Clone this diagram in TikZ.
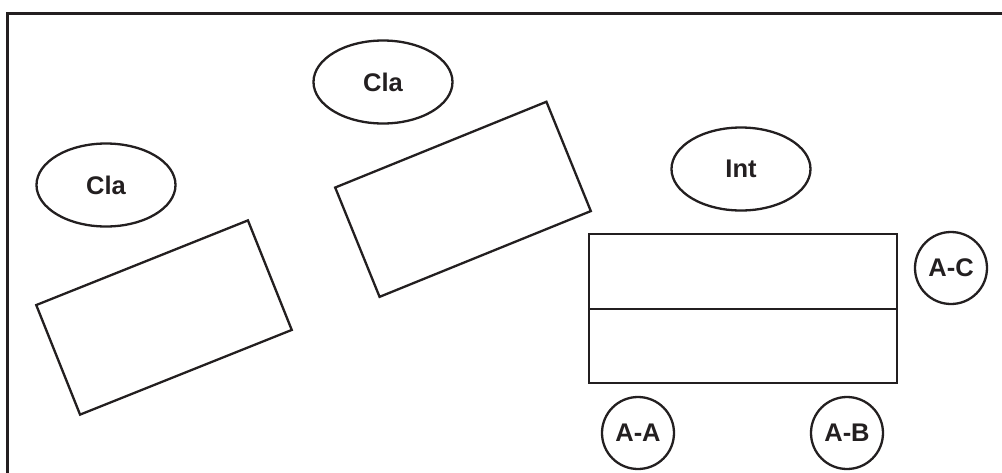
\documentclass[tikz,border=0pt]{standalone}
\usepackage{fontspec}
\setmainfont{Liberation Sans}
\usetikzlibrary{shapes.geometric}
\definecolor{ink}{HTML}{231F20}
\begin{document}
\begin{tikzpicture}[x=1pt,y=-1pt,
  lbl/.style={font=\bfseries\fontsize{25.5}{28}\selectfont, text=ink},
  oval/.style={ellipse, draw=ink, line width=2.3pt, minimum width=139pt, minimum height=83pt, inner sep=0pt, lbl},
  port/.style={circle, draw=ink, line width=2.3pt, minimum size=72pt, inner sep=0pt, lbl},
  tilted/.style={rectangle, draw=ink, line width=2.3pt, minimum width=228pt, minimum height=118pt, inner sep=0pt},
  bar/.style={rectangle, draw=ink, line width=2.3pt, minimum width=308pt, minimum height=74.5pt, inner sep=0pt, anchor=north west}]
\useasboundingbox (0,0) rectangle (1002,472);
\fill[white] (0,0) rectangle (1002,472);
\draw[ink, line width=3pt] (1010,13) -- (7,13) -- (7,480);
\node[oval] (cla1) at (106,185) {Cla};
\node[oval] (cla2) at (383,82) {Cla};
\node[oval] (int) at (741,169) {Int};
\node[tilted, rotate=21.8] (box1) at (164,317.5) {};
\node[tilted, rotate=22.1] (box2) at (463,199.3) {};
\node[bar] (top) at (588,233) {};
\node[bar] (bot) at (588,307.5) {};
\node[port] (ac) at (951,268) {A-C};
\node[port] (aa) at (638,433) {A-A};
\node[port] (ab) at (847,433) {A-B};
\end{tikzpicture}
\end{document}
